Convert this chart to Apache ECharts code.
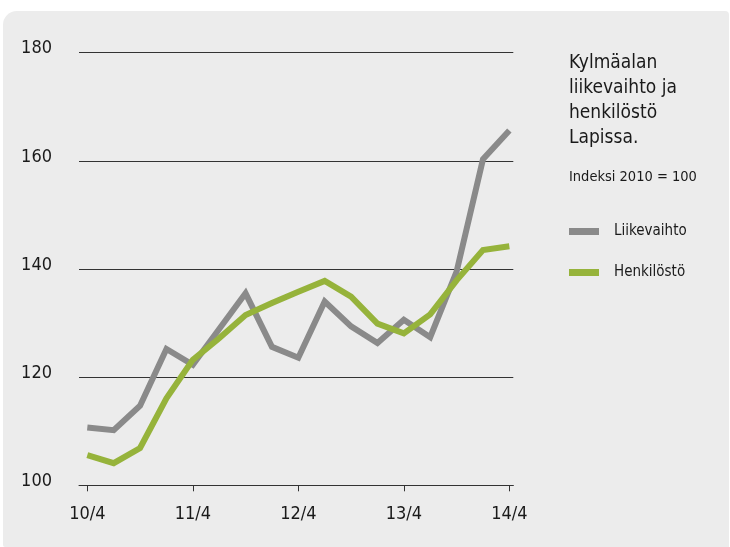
<!DOCTYPE html>
<html>
<head>
<meta charset="utf-8">
<script src="https://cdn.jsdelivr.net/npm/echarts@6/dist/echarts.min.js"></script>
<style>
  html, body { margin: 0; padding: 0; background: #ffffff; }
  #panel { position: absolute; left: 3px; top: 11px; width: 726px; height: 536px; background: #ececec; border-radius: 14px 4px 0 2px; }
  #chart { position: absolute; left: 0; top: 0; width: 730px; height: 547px; }
</style>
</head>
<body>
<div id="panel"></div>
<div id="chart"></div>
<script>
// Quarterly observations from 10/4 to 14/4 (index 0..16)
const quarters = [0,1,2,3,4,5,6,7,8,9,10,11,12,13,14,15,16];
const tickPositions = [0, 4, 8, 12, 16];
const tickLabels = ['10/4', '11/4', '12/4', '13/4', '14/4'];
const liikevaihto = [110.7, 110.2, 114.7, 125.2, 122.3, 128.9, 135.5, 125.6, 123.6, 134.0, 129.4, 126.3, 130.6, 127.4, 139.5, 160.3, 165.6];
const henkilosto  = [105.6, 104.1, 106.9, 116.1, 123.2, 127.2, 131.5, 133.7, 135.8, 137.8, 134.9, 129.9, 128.1, 131.6, 137.9, 143.5, 144.2];
const seriesNames = ['Liikevaihto', 'Henkilöstö'];
const titleText = 'Kylmäalan\nliikevaihto ja\nhenkilöstö\nLapissa.';
const subtitleText = 'Indeksi 2010 = 100';

const FONT = '"Liberation Sans Narrow", "DejaVu Sans Condensed", "Roboto", sans-serif';
const chart = echarts.init(document.getElementById('chart'), null, { renderer: 'canvas' });
const pairs = (arr) => quarters.map((q, i) => [q, arr[i]]);
const labelMap = {};
tickPositions.forEach((p, i) => { labelMap[p] = tickLabels[i]; });

chart.setOption({
  backgroundColor: 'transparent',
  animation: false,
  textStyle: { fontFamily: FONT },
  title: [
    { text: titleText, left: 564, top: 46,
      textStyle: { fontFamily: FONT, fontSize: 19, fontWeight: 'normal', color: '#1a1a1a', lineHeight: 25 } },
    { text: subtitleText, left: 564, top: 165,
      textStyle: { fontFamily: FONT, fontSize: 14.5, fontWeight: 'normal', color: '#1a1a1a' } }
  ],
  legend: {
    data: seriesNames.map(n => ({ name: n, icon: 'rect' })),
    orient: 'vertical', left: 564, top: 219,
    itemWidth: 30, itemHeight: 7, itemGap: 26,
    textStyle: { fontFamily: FONT, fontSize: 15, color: '#1a1a1a', padding: [0, 0, 0, 10] }
  },
  grid: { left: 79, right: 216.7, top: 52.7, bottom: 61.7, containLabel: false },
  xAxis: {
    type: 'value', min: -0.315, max: 16.15,
    axisLine: { show: true, lineStyle: { color: '#333333', width: 1 } },
    axisTick: { show: true, customValues: tickPositions, length: 6, inside: false, lineStyle: { color: '#333333' } },
    axisLabel: { customValues: tickPositions, formatter: v => labelMap[v] || '', fontFamily: FONT, fontSize: 18, color: '#1a1a1a', margin: 20 },
    splitLine: { show: false }
  },
  yAxis: {
    type: 'value', min: 100, max: 180, interval: 20,
    axisLine: { show: false }, axisTick: { show: false },
    axisLabel: { fontFamily: FONT, fontSize: 18, color: '#1a1a1a', margin: 27, verticalAlign: 'bottom', lineHeight: 8 },
    splitLine: { show: true, lineStyle: { color: '#333333', width: 1 } }
  },
  series: [
    { name: seriesNames[0], type: 'line', data: pairs(liikevaihto), showSymbol: false, symbol: 'none',
      lineStyle: { color: '#8a8a8a', width: 6, join: 'miter' }, itemStyle: { color: '#8a8a8a' }, z: 2 },
    { name: seriesNames[1], type: 'line', data: pairs(henkilosto), showSymbol: false, symbol: 'none',
      lineStyle: { color: '#96b33b', width: 6, join: 'miter' }, itemStyle: { color: '#96b33b' }, z: 3 }
  ]
});
</script>
</body>
</html>
